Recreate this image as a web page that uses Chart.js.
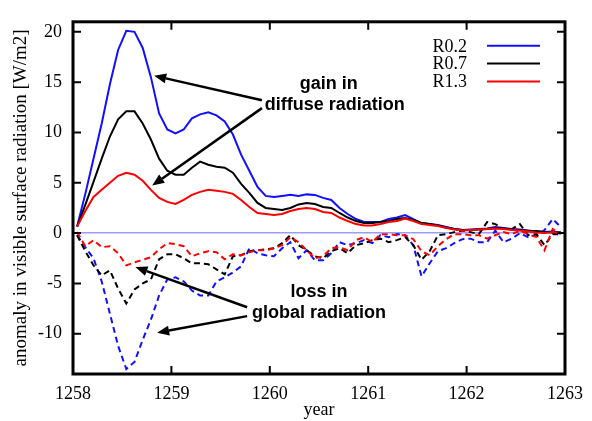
<!DOCTYPE html>
<html>
<head>
<meta charset="utf-8">
<script src="https://cdn.jsdelivr.net/npm/chart.js@4/dist/chart.umd.min.js"></script>
<style>
  html, body { margin: 0; padding: 0; background: #fff; }
</style>
</head>
<body>
<canvas id="myChart" width="592" height="421"></canvas>
<script>
// monthly means, first point mid-January 1258
const startYear = 1258;
const xTicks = [1258, 1259, 1260, 1261, 1262, 1263];
const yTicks = [-10, -5, 0, 5, 10, 15, 20];
const seriesNames = ['R0.2', 'R0.7', 'R1.3'];

// gain in diffuse radiation (solid)
const diffuseR02 = [0.65, 3.9, 7.4, 10.9, 14.8, 18.2, 20.1, 20.0, 18.4, 15.5,
  11.9, 10.3, 9.9, 10.3, 11.4, 11.8, 12.0, 11.7, 11.1, 9.8,
  7.8, 6.2, 4.6, 3.7, 3.6, 3.7, 3.8, 3.7, 3.85, 3.8,
  3.5, 3.3, 2.5, 1.9, 1.4, 1.1, 1.1, 1.1, 1.4, 1.55,
  1.8, 1.4, 1.0, 0.9, 0.8, 0.6, 0.4, 0.3, 0.35, 0.4,
  0.45, 0.6, 0.5, 0.4, 0.35, 0.25, 0.15, 0.1, 0.15, 0.05];
const diffuseR07 = [0.65, 2.8, 5.1, 7.4, 9.6, 11.3, 12.1, 12.1, 10.9, 9.3,
  7.4, 6.2, 5.8, 5.8, 6.5, 7.1, 6.8, 6.6, 6.5, 6.0,
  4.9, 4.0, 3.0, 2.5, 2.4, 2.3, 2.5, 2.85, 3.0, 2.9,
  2.6, 2.5, 2.0, 1.55, 1.2, 1.0, 1.0, 1.1, 1.2, 1.4,
  1.5, 1.3, 1.0, 0.9, 0.75, 0.55, 0.4, 0.3, 0.3, 0.35,
  0.4, 0.5, 0.45, 0.35, 0.3, 0.2, 0.2, 0.1, 0.05, 0.05];
const diffuseR13 = [0.65, 2.2, 3.6, 4.3, 5.0, 5.7, 6.0, 5.8, 5.2, 4.3,
  3.5, 3.1, 2.9, 3.3, 3.8, 4.1, 4.3, 4.2, 4.1, 3.9,
  3.3, 2.6, 2.0, 1.9, 1.8, 1.9, 2.2, 2.4, 2.5, 2.4,
  2.1, 2.0, 1.55, 1.2, 0.9, 0.75, 0.75, 0.9, 1.1, 1.2,
  1.45, 1.2, 0.9, 0.8, 0.7, 0.5, 0.35, 0.25, 0.3, 0.35,
  0.4, 0.45, 0.4, 0.3, 0.25, 0.15, 0.05, 0.0, 0.1, 0.0];

// loss in global radiation (dashed)
const globalR02 = [-0.2, -1.4, -2.5, -4.8, -8.0, -11.2, -13.5, -12.8, -10.6, -8.6,
  -6.2, -4.6, -4.4, -4.8, -5.7, -6.2, -6.2, -4.8, -4.4, -3.9,
  -3.3, -1.5, -2.0, -2.2, -2.3, -1.5, -0.9, -2.5, -1.7, -2.7,
  -2.7, -2.0, -0.9, -1.2, -1.0, -0.7, -1.0, -0.2, -0.4, -0.1,
  -0.2, -1.2, -4.3, -3.0, -1.8, -1.5, -1.0, -0.6, -0.55, -0.9,
  -0.9, 0.25, -0.9, -0.55, 0.0, -0.4, -0.2, 0.3, 1.4, 0.6];
const globalR07 = [-0.2, -1.8, -3.2, -4.2, -3.7, -5.5, -7.0, -5.6, -5.0, -4.6,
  -2.6, -2.1, -2.1, -2.5, -3.0, -3.0, -3.1, -3.6, -4.1, -2.3,
  -2.2, -1.8, -1.7, -1.6, -1.5, -1.0, -0.2, -1.2, -1.7, -2.3,
  -2.5, -1.8, -1.5, -2.0, -1.2, -1.0, -0.7, -0.55, -0.9, -0.7,
  -0.4, -1.2, -2.65, -1.8, -0.2, -0.1, 0.1, 0.25, 0.1, -0.1,
  1.1, 0.9, 0.4, 0.4, 0.9, -0.2, -0.1, -1.2, -0.1, -0.1];
const globalR13 = [0.1, -1.3, -0.7, -1.4, -1.3, -2.0, -3.2, -2.9, -2.65, -2.4,
  -1.6, -1.0, -1.1, -1.3, -2.3, -2.0, -1.8, -1.9, -2.6, -2.1,
  -2.2, -1.9, -1.7, -1.7, -1.5, -1.2, -0.4, -0.9, -1.7, -2.5,
  -2.3, -1.5, -1.4, -1.7, -0.7, -0.4, -0.9, -0.1, -0.1, -0.2,
  -0.2, -0.6, -1.8, -2.2, -1.3, -0.6, -0.1, -0.1, -0.2, -0.2,
  -0.55, -0.2, 0.1, -0.1, 0.25, -0.1, -0.4, -1.7, 0.4, -0.1];

// annotation text and arrows, in data units [year, value]
const labels = [
  { text: 'gain in', at: [1260.60, 14.86] },
  { text: 'diffuse radiation', at: [1260.66, 12.71] },
  { text: 'loss in', at: [1260.50, -5.81] },
  { text: 'global radiation', at: [1260.50, -7.96] }
];
const arrows = [
  { from: [1259.92, 13.2], to: [1258.825, 15.64] },
  { from: [1259.92, 12.42], to: [1258.805, 4.72] },
  { from: [1259.77, -7.37], to: [1258.634, -3.37] },
  { from: [1259.77, -8.25], to: [1258.855, -9.9] }
];

const colors = ['#1010ff', '#000000', '#ff0000'];
const serif = '"Liberation Serif", "Times New Roman", serif';

function toPoints(vals) {
  return vals.map((v, i) => ({ x: startYear + (i + 0.5) / 12, y: v }));
}

function makeSet(vals, i, dashed) {
  return {
    label: seriesNames[i] + (dashed ? ' global' : ''),
    data: toPoints(vals),
    borderColor: colors[i],
    borderWidth: 2,
    borderDash: dashed ? [6, 4] : [],
    pointRadius: 0,
    tension: 0,
    fill: false,
    order: (dashed ? 6 : 3) - i
  };
}

const framePlugin = {
  id: 'frame',
  afterDatasetsDraw(chart) {
    const { ctx, chartArea: a, scales: { x, y } } = chart;
    ctx.save();

    // arrows
    ctx.strokeStyle = '#000';
    ctx.fillStyle = '#000';
    ctx.lineWidth = 2.5;
    arrows.forEach(ar => {
      const x0 = x.getPixelForValue(ar.from[0]), y0 = y.getPixelForValue(ar.from[1]);
      const x1 = x.getPixelForValue(ar.to[0]), y1 = y.getPixelForValue(ar.to[1]);
      const ang = Math.atan2(y1 - y0, x1 - x0);
      const hl = 12, hw = 5;
      const bx = x1 - hl * Math.cos(ang), by = y1 - hl * Math.sin(ang);
      ctx.beginPath();
      ctx.moveTo(x0, y0);
      ctx.lineTo(bx, by);
      ctx.stroke();
      ctx.beginPath();
      ctx.moveTo(x1, y1);
      ctx.lineTo(bx + hw * Math.sin(ang), by - hw * Math.cos(ang));
      ctx.lineTo(bx - hw * Math.sin(ang), by + hw * Math.cos(ang));
      ctx.closePath();
      ctx.fill();
    });

    // text labels
    ctx.font = 'bold 18px "Liberation Sans", Arial, sans-serif';
    ctx.textAlign = 'center';
    ctx.textBaseline = 'middle';
    labels.forEach(l => {
      ctx.fillText(l.text, x.getPixelForValue(l.at[0]), y.getPixelForValue(l.at[1]));
    });

    // legend
    ctx.font = '18px ' + serif;
    ctx.textAlign = 'right';
    seriesNames.forEach((name, i) => {
      const ly = a.top + 24 + i * 17.8;
      ctx.fillStyle = '#000';
      ctx.fillText(name, a.right - 98, ly + 1);
      ctx.strokeStyle = colors[i];
      ctx.lineWidth = 2;
      ctx.beginPath();
      ctx.moveTo(a.right - 78, ly);
      ctx.lineTo(a.right - 25, ly);
      ctx.stroke();
    });

    // inward tick marks on all four sides
    ctx.strokeStyle = '#000';
    ctx.lineWidth = 2;
    const tl = 8;
    ctx.beginPath();
    xTicks.forEach(v => {
      const px = x.getPixelForValue(v);
      ctx.moveTo(px, a.bottom); ctx.lineTo(px, a.bottom - tl);
      ctx.moveTo(px, a.top); ctx.lineTo(px, a.top + tl);
    });
    yTicks.forEach(v => {
      const py = y.getPixelForValue(v);
      ctx.moveTo(a.left, py); ctx.lineTo(a.left + tl, py);
      ctx.moveTo(a.right, py); ctx.lineTo(a.right - tl, py);
    });
    ctx.stroke();

    // frame
    ctx.lineWidth = 3;
    ctx.strokeRect(a.left, a.top, a.right - a.left, a.bottom - a.top);
    ctx.restore();
  }
};

const ctx = document.getElementById('myChart').getContext('2d');
new Chart(ctx, {
  type: 'line',
  data: {
    datasets: [
      makeSet(diffuseR02, 0, false),
      makeSet(diffuseR07, 1, false),
      makeSet(diffuseR13, 2, false),
      makeSet(globalR02, 0, true),
      makeSet(globalR07, 1, true),
      makeSet(globalR13, 2, true)
    ]
  },
  options: {
    responsive: false,
    animation: false,
    devicePixelRatio: 1,
    layout: { padding: { top: 15, right: 22, left: 0, bottom: 0 } },
    plugins: {
      legend: { display: false },
      tooltip: { enabled: false }
    },
    scales: {
      x: {
        type: 'linear',
        min: 1258,
        max: 1263,
        afterBuildTicks: s => { s.ticks = xTicks.map(v => ({ value: v })); },
        afterFit: s => { s.height = 47; },
        grid: { drawOnChartArea: false, drawTicks: false },
        border: { display: false },
        ticks: {
          padding: 9,
          color: '#000',
          font: { family: serif, size: 18 },
          callback: v => String(v)
        },
        title: {
          display: true,
          text: 'year',
          color: '#000',
          font: { family: serif, size: 18 },
          padding: { top: 0, bottom: 0 }
        }
      },
      y: {
        min: -14,
        max: 21,
        afterBuildTicks: s => { s.ticks = yTicks.map(v => ({ value: v })); },
        afterFit: s => { s.width = 73; },
        grid: {
          drawTicks: false,
          lineWidth: 1.5,
          color: c => (c.tick && c.tick.value === 0 ? '#9c9cff' : 'rgba(0,0,0,0)')
        },
        border: { display: false },
        ticks: {
          padding: 11,
          color: '#000',
          font: { family: serif, size: 18 },
          callback: v => String(v)
        },
        title: {
          display: true,
          text: 'anomaly in visible surface radiation [W/m2]',
          color: '#000',
          font: { family: serif, size: 19 },
          padding: { top: 10, bottom: 0 }
        }
      }
    }
  },
  plugins: [framePlugin]
});
</script>
</body>
</html>
